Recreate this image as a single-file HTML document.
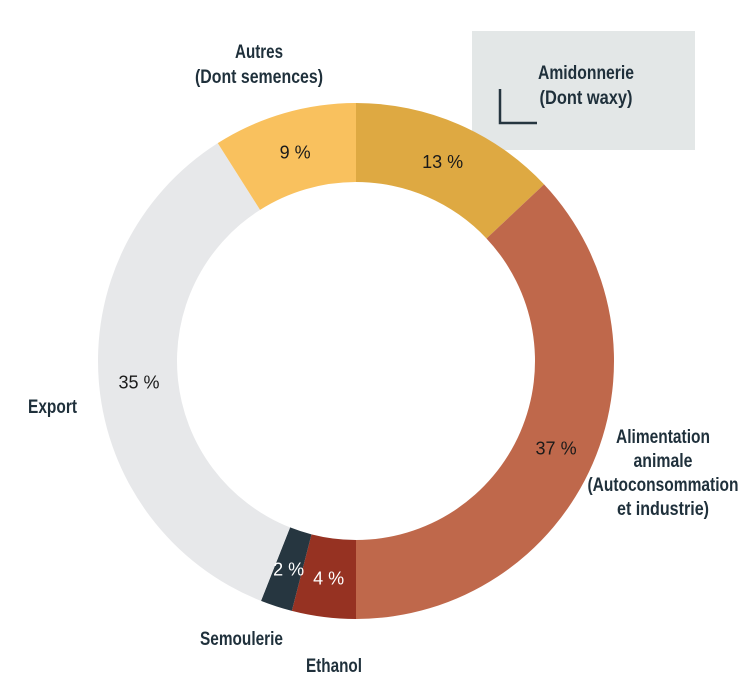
<!DOCTYPE html>
<html><head><meta charset="utf-8"><style>
html,body{margin:0;padding:0;background:#fff;}
svg{display:block;}
.lbl{font-family:"Liberation Sans",sans-serif;font-weight:bold;font-size:19px;fill:#1f303b;}
.pct{font-family:"Liberation Sans",sans-serif;font-size:18px;}
</style></head><body>
<svg id="chart" width="748" height="682" viewBox="0 0 748 682">
<rect x="472" y="31" width="223" height="119" fill="#e3e7e7"/>
<text class="lbl" x="586" y="79" text-anchor="middle" textLength="96" lengthAdjust="spacingAndGlyphs">Amidonnerie</text>
<text class="lbl" x="586" y="104" text-anchor="middle" textLength="93" lengthAdjust="spacingAndGlyphs">(Dont waxy)</text>
<polyline points="500,89 500,123 537,123" fill="none" stroke="#263640" stroke-width="2.5"/>
<g id="slices"></g>
<g id="pcts"></g>
<text class="lbl" x="259" y="58" text-anchor="middle" textLength="48" lengthAdjust="spacingAndGlyphs">Autres</text>
<text class="lbl" x="259" y="83" text-anchor="middle" textLength="128" lengthAdjust="spacingAndGlyphs">(Dont semences)</text>
<text class="lbl" x="28" y="413" textLength="49" lengthAdjust="spacingAndGlyphs">Export</text>
<text class="lbl" x="663" y="443" text-anchor="middle" textLength="94" lengthAdjust="spacingAndGlyphs">Alimentation</text>
<text class="lbl" x="663" y="467" text-anchor="middle" textLength="59" lengthAdjust="spacingAndGlyphs">animale</text>
<text class="lbl" x="663" y="491" text-anchor="middle" textLength="151" lengthAdjust="spacingAndGlyphs">(Autoconsommation</text>
<text class="lbl" x="663" y="515" text-anchor="middle" textLength="92" lengthAdjust="spacingAndGlyphs">et industrie)</text>
<text class="lbl" x="200" y="645" textLength="83" lengthAdjust="spacingAndGlyphs">Semoulerie</text>
<text class="lbl" x="306" y="672" textLength="56" lengthAdjust="spacingAndGlyphs">Ethanol</text>
</svg>
<script>
const categories = ["Amidonnerie","Alimentation animale","Ethanol","Semoulerie","Export","Autres"];
const values = [13, 37, 4, 2, 35, 9];
const valueLabels = ["13 %","37 %","4 %","2 %","35 %","9 %"];
const colors = ["#dea942","#bf684b","#963222","#263640","#e7e8ea","#f9c15e"];
const textColors = ["#1a1a1a","#1a1a1a","#ffffff","#ffffff","#1a1a1a","#1a1a1a"];
const cx = 356, cy = 361, R = 258, r = 179, rl = 218;
const NS = "http://www.w3.org/2000/svg";
const total = values.reduce((a,b)=>a+b,0);
function pt(a, rad){ return [cx + rad*Math.sin(a), cy - rad*Math.cos(a)]; }
const gS = document.getElementById('slices'), gP = document.getElementById('pcts');
let acc = 0;
values.forEach((v,i)=>{
  const a0 = acc/total*2*Math.PI, a1 = (acc+v)/total*2*Math.PI; acc += v;
  const large = (a1-a0) > Math.PI ? 1 : 0;
  const [x0,y0]=pt(a0,R),[x1,y1]=pt(a1,R),[x2,y2]=pt(a1,r),[x3,y3]=pt(a0,r);
  const p = document.createElementNS(NS,'path');
  p.setAttribute('d',`M${x0},${y0} A${R},${R} 0 ${large} 1 ${x1},${y1} L${x2},${y2} A${r},${r} 0 ${large} 0 ${x3},${y3} Z`);
  p.setAttribute('fill',colors[i]);
  
  
  gS.appendChild(p);
  const am = (a0+a1)/2; const [lx,ly]=pt(am,rl);
  const t = document.createElementNS(NS,'text');
  t.setAttribute('x',lx); t.setAttribute('y',ly+7);
  t.setAttribute('text-anchor','middle'); t.setAttribute('class','pct');
  t.setAttribute('fill',textColors[i]);
  t.textContent = valueLabels[i];
  
  
  gP.appendChild(t);
});
</script>
</body></html>
